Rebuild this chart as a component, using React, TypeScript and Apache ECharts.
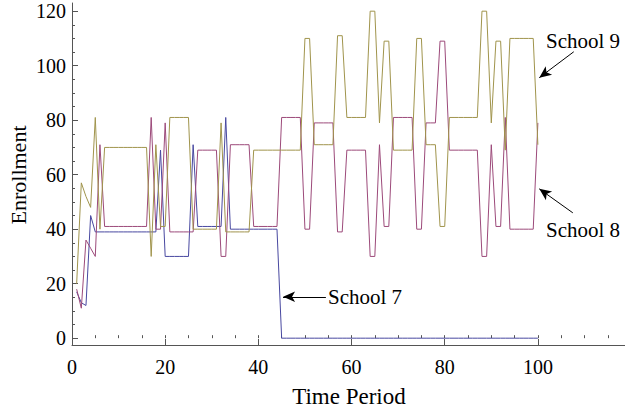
import React, { useEffect, useRef } from "react";
import * as echarts from "echarts";

// Enrollment per time period, periods 1..100
const school7 = [
  17, 13, 12, 45, 39, 39, 39, 39, 39, 39,
  39, 39, 39, 39, 39, 39, 39, 39, 69, 30,
  30, 30, 30, 30, 30, 71, 41, 41, 41, 41,
  41, 41, 81, 40, 40, 40, 40, 40, 40, 40,
  40, 40, 40, 40, 0, 0, 0, 0, 0, 0,
  0, 0, 0, 0, 0, 0, 0, 0, 0, 0,
  0, 0, 0, 0, 0, 0, 0, 0, 0, 0,
  0, 0, 0, 0, 0, 0, 0, 0, 0, 0,
  0, 0, 0, 0, 0, 0, 0, 0, 0, 0,
  0, 0, 0, 0, 0, 0, 0, 0, 0, 0,
];
const school8 = [
  18, 11, 36, 33, 30, 71, 41, 41, 41, 41,
  41, 41, 41, 41, 41, 41, 81, 40, 40, 79,
  39, 39, 39, 39, 39, 39, 69, 69, 69, 69,
  69, 30, 30, 71, 71, 71, 71, 71, 41, 41,
  41, 41, 41, 41, 81, 81, 81, 81, 81, 40,
  40, 79, 79, 79, 79, 79, 39, 39, 69, 69,
  69, 69, 69, 30, 30, 71, 41, 41, 81, 81,
  81, 81, 81, 40, 40, 79, 79, 79, 109, 109,
  69, 69, 69, 69, 69, 69, 69, 30, 30, 71,
  41, 41, 81, 40, 40, 40, 40, 40, 40, 79,
];
const school9 = [
  20, 57, 52, 48, 81, 40, 70, 70, 70, 70,
  70, 70, 70, 70, 70, 70, 30, 71, 41, 41,
  81, 81, 81, 81, 81, 40, 40, 40, 40, 40,
  40, 79, 39, 39, 39, 39, 39, 39, 69, 69,
  69, 69, 69, 69, 69, 69, 69, 69, 69, 110,
  110, 71, 71, 71, 71, 71, 111, 111, 81, 81,
  81, 81, 81, 120, 120, 79, 109, 109, 69, 69,
  69, 69, 69, 110, 110, 71, 71, 71, 41, 41,
  81, 81, 81, 81, 81, 81, 81, 120, 120, 79,
  109, 109, 69, 110, 110, 110, 110, 110, 110, 71,
];

const seriesNames = ["School 7", "School 8", "School 9"];
const seriesColors = ["#4848A0", "#9C4A7A", "#A0944C"];
const yLabels = [0, 20, 40, 60, 80, 100, 120];
const yMinorTicks = [0, 5, 10, 15, 20, 25, 30, 35, 40, 45, 50, 55, 60, 65, 70, 75, 80, 85, 90, 95, 100, 105, 110, 115, 120];
const xLabels = [0, 20, 40, 60, 80, 100];
const xMinorTicks = [0, 5, 10, 15, 20, 25, 30, 35, 40, 45, 50, 55, 60, 65, 70, 75, 80, 85, 90, 95, 100, 105, 110, 115];

const FONT = "'Liberation Serif', 'Times New Roman', serif";

export default function App() {
  const ref = useRef<HTMLDivElement>(null);
  useEffect(() => {
    document.body.style.margin = "0";
    if (!ref.current) return;
    const chart = echarts.init(ref.current, undefined, { renderer: "svg" });
    const toPairs = (arr: number[]) => arr.map((v, i) => [i + 1, v]);
    const data = [school7, school8, school9];
    const axisColor = "#555";
    const grid = { left: 72, right: 0, top: 3, bottom: 65 };
    const option: any = {
      animation: false,
      grid,
      xAxis: [
        {
          type: "value",
          min: 0,
          max: 118.7,
          splitLine: { show: false },
          axisLine: { show: true, onZero: false, lineStyle: { color: axisColor, width: 1 } },
          axisTick: { show: true, inside: true, length: 6, customValues: xLabels, lineStyle: { color: axisColor } },
          axisLabel: { customValues: xLabels, fontSize: 20, fontFamily: FONT, color: "#000", margin: 12 },
        },
        {
          type: "value",
          min: 0,
          max: 118.7,
          position: "bottom",
          splitLine: { show: false },
          axisLine: { show: false },
          axisTick: { show: true, inside: true, length: 3, customValues: xMinorTicks, lineStyle: { color: axisColor } },
          axisLabel: { show: false },
        },
      ],
      yAxis: [
        {
          type: "value",
          min: -2.5,
          max: 123,
          splitLine: { show: false },
          axisLine: { show: true, onZero: false, lineStyle: { color: axisColor, width: 1 } },
          axisTick: { show: true, inside: true, length: 6, customValues: yLabels, lineStyle: { color: axisColor } },
          axisLabel: { customValues: yLabels, fontSize: 20, fontFamily: FONT, color: "#000", margin: 6 },
        },
        {
          type: "value",
          min: -2.5,
          max: 123,
          position: "left",
          splitLine: { show: false },
          axisLine: { show: false },
          axisTick: { show: true, inside: true, length: 3, customValues: yMinorTicks, lineStyle: { color: axisColor } },
          axisLabel: { show: false },
        },
      ],
      series: [
        ...data.map((arr, k) => ({
          name: seriesNames[k],
          type: "line",
          data: toPairs(arr),
          showSymbol: false,
          symbol: "none",
          lineStyle: { color: seriesColors[k], width: 1 },
          xAxisIndex: 0,
          yAxisIndex: 0,
          z: 2 + k,
        })),
        {
          type: "line",
          data: [],
          xAxisIndex: 0,
          yAxisIndex: 0,
          markLine: {
            silent: true,
            symbol: ["none", "arrow"],
            symbolSize: [8, 12],
            label: { show: false },
            lineStyle: { color: "#000", width: 1, type: "solid" },
            data: [
              [{ coord: [107.7, 105.1] }, { coord: [100.3, 95.6] }],
              [{ coord: [107.5, 46] }, { coord: [100.3, 54.8] }],
              [{ coord: [54.5, 15.2] }, { coord: [45.3, 15.2] }],
            ],
          },
        },
      ],
      graphic: [
        {
          type: "text",
          x: 18,
          y: 175,
          rotation: Math.PI / 2,
          style: { text: "Enrollment", font: `22px ${FONT}`, fill: "#000", textAlign: "center", textVerticalAlign: "middle" },
        },
        {
          type: "text",
          x: 349,
          y: 396,
          style: { text: "Time Period", font: `23px ${FONT}`, fill: "#000", textAlign: "center", textVerticalAlign: "middle" },
        },
        {
          type: "text",
          x: 546,
          y: 41,
          style: { text: "School 9", font: `21px ${FONT}`, fill: "#000", textAlign: "left", textVerticalAlign: "middle" },
        },
        {
          type: "text",
          x: 546,
          y: 230,
          style: { text: "School 8", font: `21px ${FONT}`, fill: "#000", textAlign: "left", textVerticalAlign: "middle" },
        },
        {
          type: "text",
          x: 328,
          y: 297,
          style: { text: "School 7", font: `21px ${FONT}`, fill: "#000", textAlign: "left", textVerticalAlign: "middle" },
        },
      ],
    };
    chart.setOption(option);
    return () => chart.dispose();
  }, []);
  return <div ref={ref} style={{ width: 625, height: 410 }} />;
}
